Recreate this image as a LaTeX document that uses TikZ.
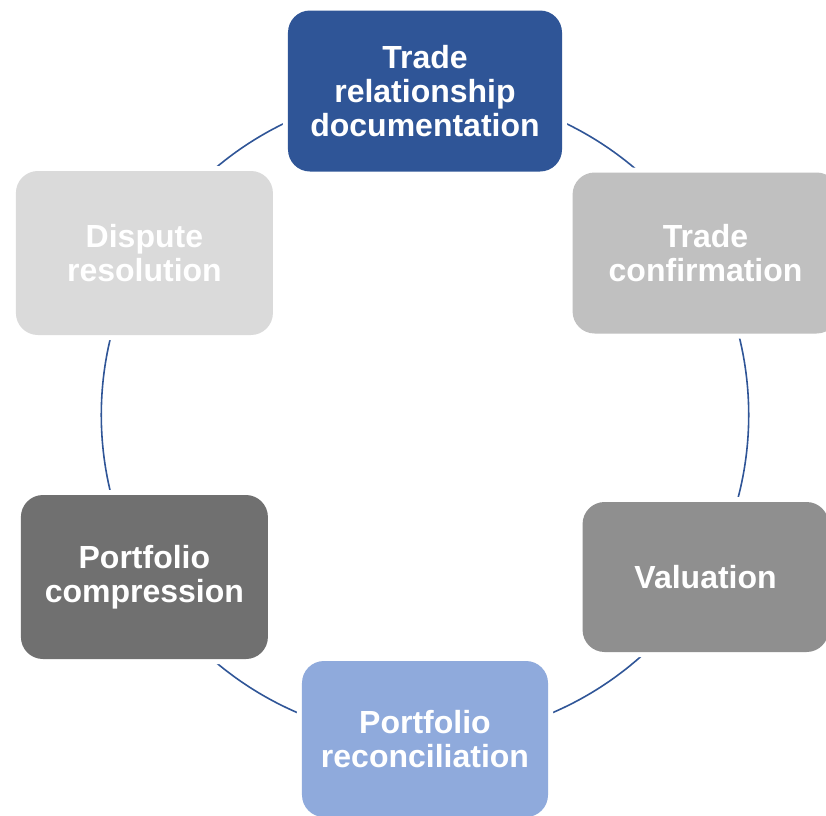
\documentclass[tikz,border=0pt]{standalone}
\usepackage{fontspec}
\setmainfont{Liberation Sans}
\usetikzlibrary{backgrounds}

\definecolor{navy}{HTML}{2F5597}
\definecolor{skyblue}{HTML}{8FAADC}
\definecolor{greyA}{HTML}{DADADA}
\definecolor{greyB}{HTML}{C0C0C0}
\definecolor{greyC}{HTML}{8F8F8F}
\definecolor{greyD}{HTML}{707070}

\begin{document}
\begin{tikzpicture}[x=1pt, y=1pt,
	stage/.style={rounded corners=22pt, inner sep=0pt, align=center, text=white,
		font=\bfseries\fontsize{32}{34}\selectfont,
		preaction={draw=white, line width=10pt}},
	link/.style={draw=navy, line width=1.6pt, bend left=30, looseness=0.91}]
\useasboundingbox (-425,-400) rectangle (401,415);

% six stages round the cycle
\node[stage, fill=navy, minimum width=274pt, minimum height=161pt] (trd) at (90:324) {Trade\\relationship\\documentation};
\node[stage, fill=greyB, minimum width=266pt, minimum height=161pt] (cnf) at (30:324) {Trade\\confirmation};
\node[stage, fill=greyC, minimum width=246pt, minimum height=150pt] (val) at (-30:324) {Valuation};
\node[stage, fill=skyblue, minimum width=246pt, minimum height=156pt] (rec) at (-90:324) {Portfolio\\reconciliation};
\node[stage, fill=greyD, minimum width=247pt, minimum height=164pt] (cmp) at (210:324) {Portfolio\\compression};
\node[stage, fill=greyA, minimum width=257pt, minimum height=164pt] (dsp) at (150:324) {Dispute\\resolution};

% ring behind the boxes
\begin{pgfonlayer}{background}
\draw[link] (trd.center) to (cnf.center);
\draw[link] (cnf.center) to (val.center);
\draw[link] (val.center) to (rec.center);
\draw[link] (rec.center) to (cmp.center);
\draw[link] (cmp.center) to (dsp.center);
\draw[link] (dsp.center) to (trd.center);
\end{pgfonlayer}
\end{tikzpicture}
\end{document}
